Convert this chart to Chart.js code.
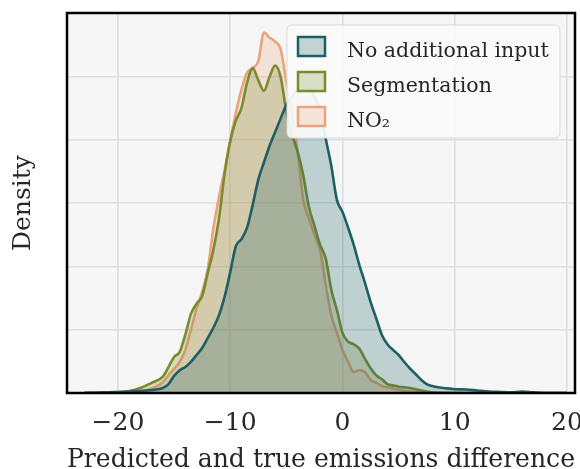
<!DOCTYPE html>
<html>
<head>
<meta charset="utf-8">
<script src="https://cdn.jsdelivr.net/npm/chart.js@4.4.0/dist/chart.umd.min.js"></script>
<style>
  html, body { margin: 0; padding: 0; background: #ffffff; }
  #wrap { width: 580px; height: 469px; }
</style>
</head>
<body>
<div id="wrap"><canvas id="kdeChart"></canvas></div>
<script>
// difference between predicted and true emissions (x) and KDE density (y, scaled so one grid step = 1)
const xValues = [
  -23, -22, -21, -20, -19, -18, -17, -16,
  -15.5, -15, -14.5, -14, -13.5, -13, -12.5, -12, -11.5, -11,
  -10.5, -10, -9.5, -9, -8.5, -8, -7.5, -7, -6.5, -6,
  -5.5, -5, -4.5, -4, -3.5, -3, -2.5, -2, -1.5, -1,
  -0.5, 0, 0.5, 1, 1.5, 2, 2.5, 3, 3.5, 4,
  4.5, 5, 5.5, 6, 6.5, 7, 7.5, 8, 8.5, 9,
  10, 11, 12, 13, 14, 15, 16, 17, 18, 19, 20
];
const densityNone = [
  0, 0.005, 0.008, 0.016, 0.024, 0.03, 0.047, 0.08,
  0.14, 0.27, 0.36, 0.41, 0.49, 0.60, 0.71, 0.87, 1.03, 1.23,
  1.52, 1.91, 2.32, 2.43, 2.61, 2.97, 3.37, 3.64, 3.90, 4.12,
  4.34, 4.55, 4.68, 4.79, 4.85, 4.82, 4.68, 4.47, 4.02, 3.59,
  3.05, 2.86, 2.61, 2.34, 2.02, 1.74, 1.44, 1.18, 0.92, 0.77,
  0.68, 0.60, 0.49, 0.39, 0.30, 0.21, 0.14, 0.11, 0.09, 0.08,
  0.06, 0.055, 0.04, 0.024, 0.016, 0.01, 0.024, 0.01, 0, 0, 0
];
const densitySegmentation = [
  0, 0.005, 0.01, 0.01, 0.03, 0.08, 0.16, 0.26,
  0.41, 0.57, 0.65, 0.92, 1.25, 1.41, 1.53, 1.90, 2.26, 2.76,
  3.46, 3.98, 4.30, 4.50, 4.90, 5.13, 4.94, 4.77, 4.99, 5.17,
  4.98, 4.44, 4.08, 3.81, 3.44, 2.94, 2.64, 2.34, 2.13, 1.63,
  1.31, 0.95, 0.81, 0.77, 0.70, 0.54, 0.39, 0.28, 0.22, 0.14,
  0.12, 0.10, 0.09, 0.08, 0.06, 0.04, 0.025, 0.008, 0.005, 0.003,
  0, 0, 0, 0, 0, 0, 0, 0, 0, 0, 0
];
const densityNo2 = [
  0, 0, 0.005, 0.005, 0.01, 0.03, 0.07, 0.17,
  0.28, 0.38, 0.49, 0.68, 1.0, 1.33, 1.60, 1.96, 2.60, 3.10,
  3.52, 3.98, 4.42, 4.79, 5.06, 5.13, 5.24, 5.69, 5.61, 5.55,
  5.42, 4.91, 4.39, 3.81, 3.05, 2.76, 2.50, 2.26, 1.71, 1.23,
  0.95, 0.68, 0.49, 0.33, 0.36, 0.33, 0.21, 0.16, 0.11, 0.09,
  0.07, 0.05, 0.035, 0.024, 0.015, 0.01, 0.008, 0.005, 0, 0,
  0, 0, 0, 0, 0, 0, 0, 0, 0, 0, 0
];
const seriesLabels = ["No additional input", "Segmentation", "NO\u2082"];
const xTicks = [-20, -10, 0, 10, 20];
const yGridLines = [0, 1, 2, 3, 4, 5, 6];

const lineColors = ["#1d5f64", "#798b2c", "#eaa37c"];
const fillColors = ["rgba(29,95,100,0.25)", "rgba(121,139,44,0.25)", "rgba(234,163,124,0.25)"];
const serif = '"DejaVu Serif", "Liberation Serif", serif';

function toPoints(values) {
  return values.map((y, i) => ({ x: xValues[i], y: y }));
}

const plotDecor = {
  id: "plotDecor",
  beforeDraw(chart) {
    const { ctx, chartArea: a } = chart;
    ctx.save();
    ctx.fillStyle = "#f6f6f6";
    ctx.fillRect(a.left, a.top, a.right - a.left, a.bottom - a.top);
    ctx.restore();
  },
  afterDraw(chart) {
    const { ctx, chartArea: a } = chart;
    ctx.save();

    // legend box, top right inside the plot
    const bx = 287, by = 25, bw = 273, bh = 113, r = 5;
    ctx.beginPath();
    ctx.moveTo(bx + r, by);
    ctx.arcTo(bx + bw, by, bx + bw, by + bh, r);
    ctx.arcTo(bx + bw, by + bh, bx, by + bh, r);
    ctx.arcTo(bx, by + bh, bx, by, r);
    ctx.arcTo(bx, by, bx + bw, by, r);
    ctx.closePath();
    ctx.fillStyle = "rgba(250,250,250,0.93)";
    ctx.fill();
    ctx.lineWidth = 1;
    ctx.strokeStyle = "#d9d9d9";
    ctx.stroke();

    chart.data.datasets.forEach((ds, i) => {
      const py = 37 + i * 35;
      ctx.fillStyle = "#fafafa";
      ctx.fillRect(298, py, 27, 19);
      ctx.fillStyle = ds.backgroundColor;
      ctx.fillRect(298, py, 27, 19);
      ctx.lineWidth = 2.5;
      ctx.strokeStyle = ds.borderColor;
      ctx.strokeRect(298, py, 27, 19);
      ctx.fillStyle = "#262626";
      ctx.font = "20.5px " + serif;
      ctx.textBaseline = "alphabetic";
      ctx.textAlign = "left";
      ctx.fillText(ds.label, 347, py + 20);
    });

    // black frame round the plot area
    ctx.lineWidth = 2.5;
    ctx.strokeStyle = "#000000";
    ctx.strokeRect(a.left, a.top, a.right - a.left, a.bottom - a.top);
    ctx.restore();
  }
};

new Chart(document.getElementById("kdeChart"), {
  type: "line",
  data: {
    datasets: [
      { label: seriesLabels[0], data: toPoints(densityNone) },
      { label: seriesLabels[1], data: toPoints(densitySegmentation) },
      { label: seriesLabels[2], data: toPoints(densityNo2) },
    ].map((ds, i) => ({
      ...ds,
      borderColor: lineColors[i],
      backgroundColor: fillColors[i],
      borderWidth: 2.6,
      pointRadius: 0,
      cubicInterpolationMode: "monotone",
      fill: "origin",
    })),
  },
  options: {
    responsive: true,
    maintainAspectRatio: false,
    animation: false,
    events: [],
    layout: { padding: { left: 0, right: 5, top: 13, bottom: 0 } },
    plugins: {
      legend: { display: false },
      tooltip: { enabled: false },
    },
    scales: {
      x: {
        type: "linear",
        min: -24.54,
        max: 20.71,
        afterBuildTicks: (scale) => {
          scale.ticks = xTicks.map((v) => ({ value: v }));
        },
        afterFit: (scale) => {
          scale.height = 76;
          scale.paddingLeft = 0;
          scale.paddingRight = 0;
        },
        grid: { color: "#dedede", lineWidth: 1.6, drawTicks: false },
        border: { display: false },
        ticks: {
          padding: 15,
          color: "#262626",
          font: { family: serif, size: 25 },
          maxRotation: 0,
          callback: (v) => (v < 0 ? "\u2212" + Math.abs(v) : String(v)),
        },
        title: {
          display: true,
          text: "Predicted and true emissions difference",
          color: "#262626",
          font: { family: serif, size: 25.7, lineHeight: 0.3 },
          padding: { top: 0, bottom: 4.5 },
        },
      },
      y: {
        min: 0,
        max: 6,
        afterBuildTicks: (scale) => {
          scale.ticks = yGridLines.map((v) => ({ value: v }));
        },
        afterFit: (scale) => {
          scale.width = 67;
        },
        grid: { color: "#dedede", lineWidth: 1.6, drawTicks: false },
        border: { display: false },
        ticks: { display: false },
        title: {
          display: true,
          text: "Density",
          color: "#262626",
          font: { family: serif, size: 25, lineHeight: 1.2 },
          padding: { top: 8, bottom: 0 },
        },
      },
    },
  },
  plugins: [plotDecor],
});
</script>
</body>
</html>
